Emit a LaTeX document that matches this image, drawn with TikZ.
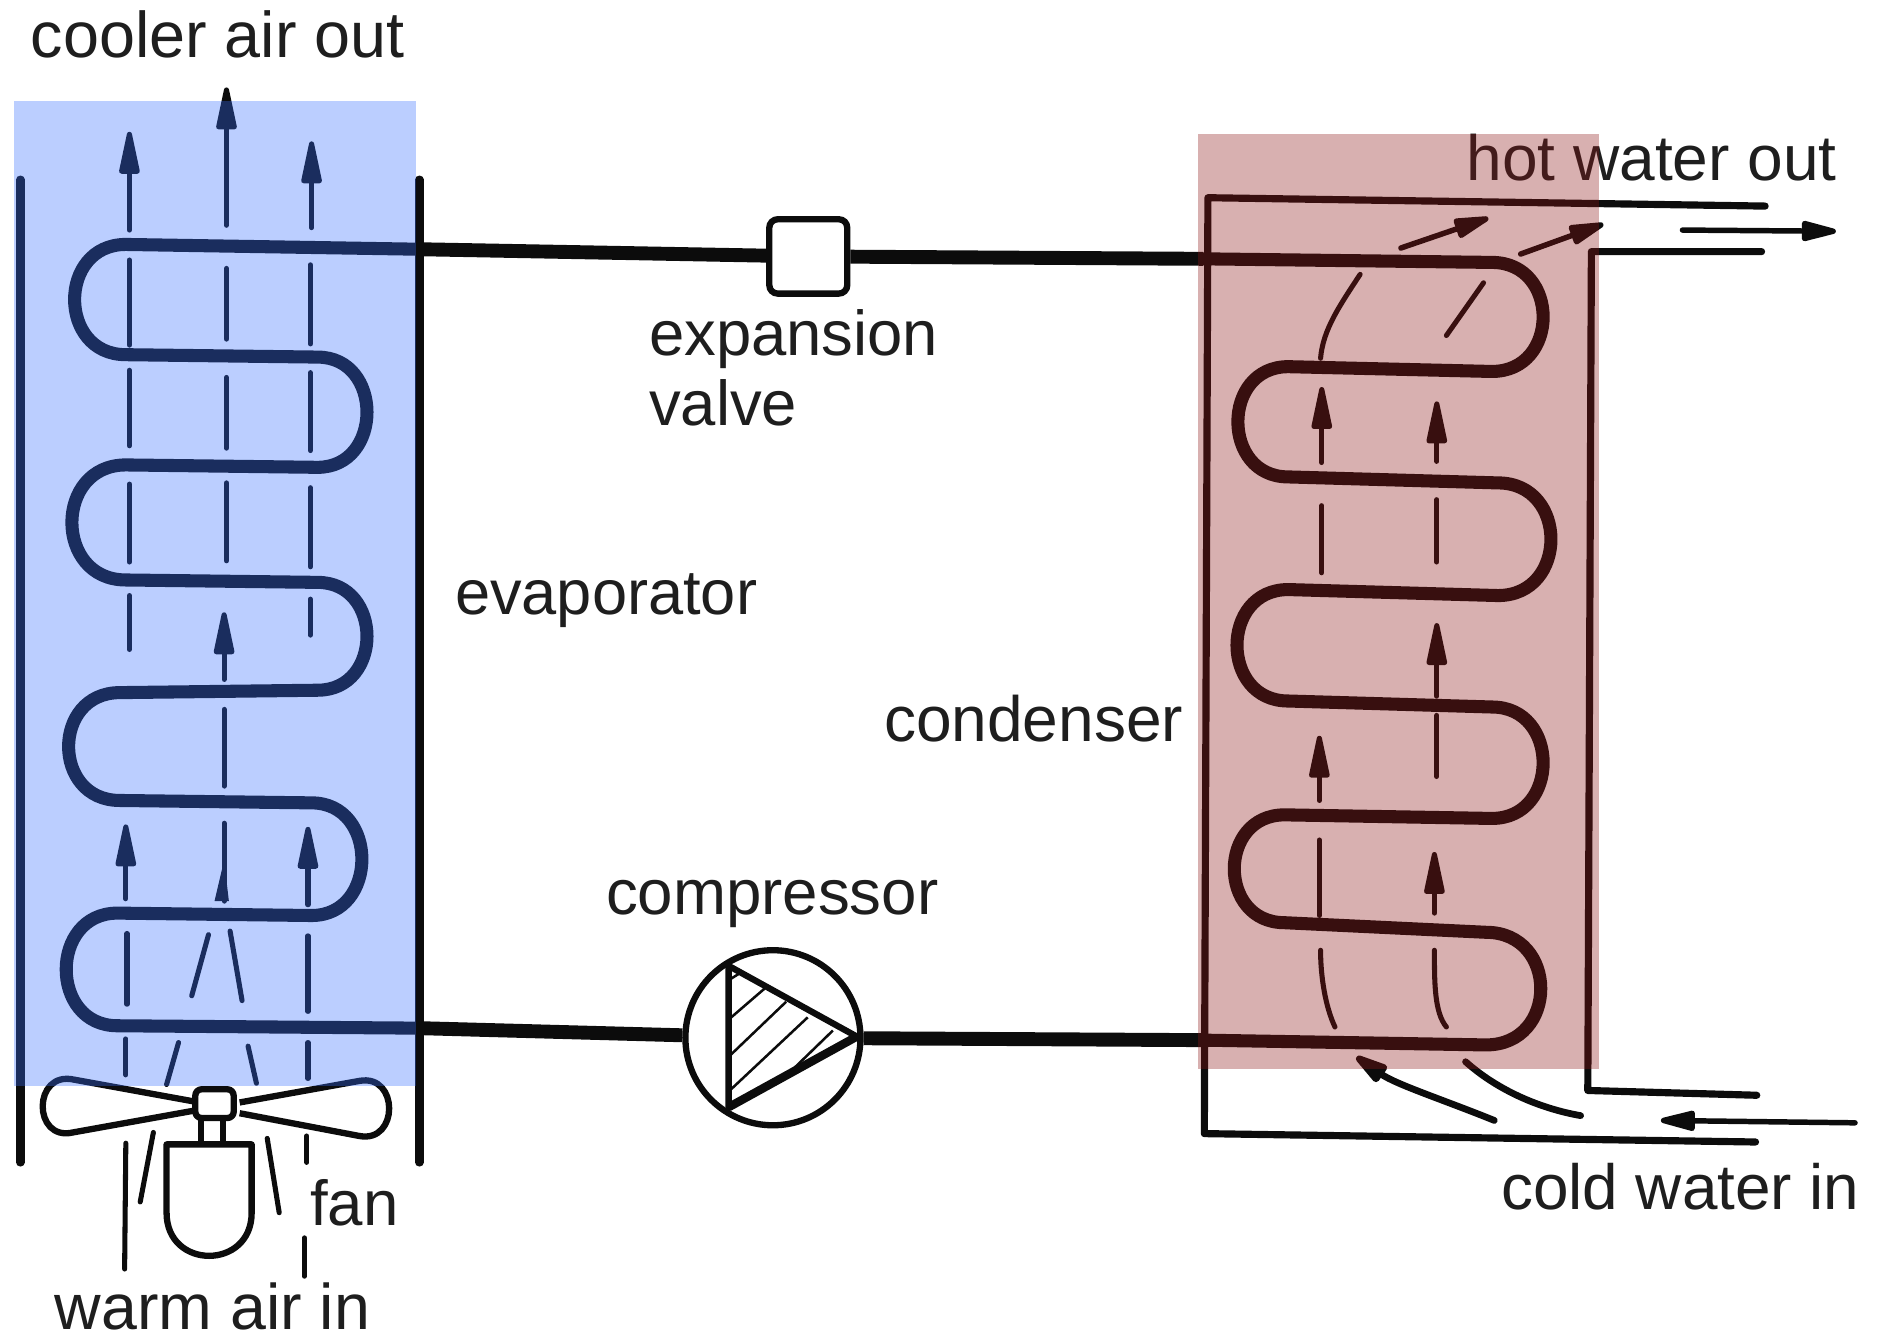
\documentclass[tikz,border=0pt]{standalone}
\usepackage{fontspec}
\setmainfont{Liberation Sans}
\usetikzlibrary{arrows.meta}
\definecolor{ink}{RGB}{12,12,12}
\definecolor{txt}{RGB}{30,30,30}
\definecolor{coolwash}{RGB}{55,111,255}
\definecolor{warmwash}{RGB}{141,23,23}
\tikzset{
  coil/.style={draw=ink,line width=3.1pt,line join=round,line cap=round},
  pipe/.style={draw=ink,line width=3.3pt},
  wall/.style={draw=ink,line width=2pt,line cap=round},
  shell/.style={draw=ink,line width=1.7pt,line join=round,line cap=round},
  air/.style={draw=ink,line width=1.2pt,line cap=round},
  airarrow/.style={air,-{Triangle[length=0.44cm,width=0.17cm,round]}},
  flowarrow/.style={air,line width=1.3pt,-{Triangle[length=0.36cm,width=0.17cm,round]}},
  label/.style={anchor=base west,inner sep=0pt,text=txt,font=\fontsize{#1}{18}\selectfont},
  label/.default=15.1,
  symbol/.style={draw=ink,line width=1.5pt,line join=round},
  hatch/.style={draw=ink,line width=0.6pt},
}
\begin{document}
\begin{tikzpicture}[x=0.01cm,y=-0.01cm]
\useasboundingbox (0,0) rectangle (1568,1116.5);
% labels
\node[label=15.35] (lcool) at (25,48) {cooler air out};
\node[label=15.2] (lhot) at (1223,150.5) {hot water out};
\node[label=15.05] (lexp) at (541,297) {expansion};
\node[label=15.05] (lval) at (541,355) {valve};
\node[label=15] (levap) at (379,513) {evaporator};
\node[label=15.2] (lcond) at (737,619) {condenser};
\node[label=15.1] (lcomp) at (505,763) {compressor};
\node[label=15.1] (lfan) at (258,1023) {fan};
\node[label=15.15] (lcold) at (1252,1009) {cold water in};
\node[label=15.3] (lwarm) at (45,1109.5) {warm air in};
% named points
\coordinate (evapTop) at (350,208);
\coordinate (evapBot) at (350,858);
\coordinate (condTop) at (1004,216);
\coordinate (condBot) at (1004,868);
% evaporator walls
\draw[wall] (17,150) -- (17,970);
\draw[wall] (350,150) -- (350,970);
% evaporator coil
\draw[coil] (evapTop) -- (105,204) .. controls (48,204) and (48,296) .. (105,296)
 -- (265,298) .. controls (320,298) and (320,390) .. (265,390)
 -- (105,388) .. controls (45,388) and (45,484) .. (105,484)
 -- (265,486) .. controls (320,486) and (320,576) .. (265,576)
 -- (100,578) .. controls (43,578) and (43,668) .. (100,668)
 -- (260,670) .. controls (316,670) and (316,764) .. (260,764)
 -- (98,762) .. controls (41,762) and (41,856) .. (98,856)
 -- (evapBot);
% air lines, evaporator
\foreach \x/\a/\b in {108/217/288,108/309/372,108/404/469,108/497/542,106/779/838,105/867/897,
  189/224/283,189/315/374,189/403/468,187/592/656,187/687/752,
  259/221/287,259/311/376,259/407/473,259/500/530,257/781/844,257/870/900}
  {\draw[air] (\x,\a) -- (\x,\b);}
\fill[ink] (187,718) -- (191,752) -- (179,752) -- cycle;
\draw[air] (105,954) -- (104,1059);
\draw[air] (256,948) -- (256,970);
\draw[air] (254,1033) -- (254,1065);
\draw[air] (174,780) -- (160,831);
\draw[air] (192,777) -- (202,835);
\draw[air] (149,870) -- (139,905);
\draw[air] (207,873) -- (214,904);
\draw[air] (128,945) -- (117,1003);
\draw[air] (223,950) -- (233,1012);
\foreach \x/\t/\h in {108/192/110,189/188/73,260/190/118,187/567/511,105/750/688,257/755/690}
  {\draw[airarrow] (\x,\t) -- (\x,\h);}
% fan
\draw[symbol] (161,919) -- (62,901) .. controls (27,893) and (27,953) .. (61,945) -- (161,927);
\draw[symbol] (200,920) -- (300,902) .. controls (333,896) and (333,954) .. (300,948) -- (200,929);
\node[symbol,draw,fill=white,rounded corners=1.5pt,minimum width=0.32cm,minimum height=0.24cm,inner sep=0pt] (hub) at (179,921) {};
\draw[symbol] (168,933) -- (168,955) (186,933) -- (186,955);
\draw[symbol] (139,955) -- (210,955) -- (210,1012) .. controls (210,1060) and (139,1060) .. (139,1012) -- cycle;
% valve and compressor
\node[draw=ink,line width=1.5pt,fill=white,rounded corners=2pt,minimum width=0.65cm,minimum height=0.62cm,inner sep=0pt] (valve) at (674.5,214) {};
\node[draw=ink,line width=1.5pt,circle,minimum size=1.46cm,inner sep=0pt] (comp) at (645,866) {};
\draw[pipe] (evapTop) -- (valve);
\draw[pipe] (valve) -- (condTop);
\draw[pipe] (evapBot) -- (comp);
\draw[pipe] (comp) -- (condBot);
% compressor symbol
\draw[symbol] (608,806) -- (715,865) -- (608,924) -- cycle;
\draw[symbol,line width=2pt] (715,865) -- (608,924);
\draw[hatch] (608,818) -- (616,813);
\draw[hatch] (609,850) -- (638,825);
\draw[hatch] (609,881) -- (656,836);
\draw[hatch] (609,910) -- (674,849);
\draw[hatch] (662,892) -- (695,860);
% condenser water shell
\draw[shell] (1473,172) -- (1008,165) -- (1005,946) -- (1465,953);
\draw[shell] (1470,210) -- (1328,210) -- (1325,910) -- (1466,914);
% condenser coil
\draw[coil] (condTop) -- (1245,219) .. controls (1302,219) and (1302,310) .. (1245,310)
 -- (1075,306) .. controls (1019,306) and (1019,398) .. (1075,398)
 -- (1250,403) .. controls (1309,403) and (1309,497) .. (1250,497)
 -- (1075,492) .. controls (1018,492) and (1018,585) .. (1075,585)
 -- (1245,590) .. controls (1302,590) and (1302,683) .. (1245,683)
 -- (1072,680) .. controls (1016,680) and (1016,770) .. (1072,770)
 -- (1240,778) .. controls (1301,778) and (1301,872) .. (1240,872)
 -- (condBot);
% water lines
\foreach \x/\a/\b in {1103/422/478,1199/417/469,1199/597/648,1101/701/764}
  {\draw[air] (\x,\a) -- (\x,\b);}
\foreach \x/\t/\h in {1103/386/323,1199/385/335,1199/581/520,1101/668/614,1197/762/711}
  {\draw[airarrow] (\x,\t) -- (\x,\h);}
\draw[air] (1135,229) .. controls (1118,255) and (1104,275) .. (1102,299);
\draw[air] (1238,236) -- (1207,280);
\draw[air] (1102,793) .. controls (1102,815) and (1106,840) .. (1114,857);
\draw[air] (1197,793) .. controls (1197,820) and (1197,845) .. (1207,857);
\draw[flowarrow] (1169,207) -- (1242,182);
\draw[flowarrow] (1269,212) -- (1338,187);
\draw[flowarrow] (1404,192) -- (1532,193);
\draw[flowarrow,line width=1.6pt] (1247,935) .. controls (1205,918) and (1165,905) .. (1132,882);
\draw[air,line width=1.6pt] (1319,931) .. controls (1285,925) and (1250,910) .. (1223,886);
\draw[flowarrow] (1548,937) -- (1386,935);
% washes
\fill[coolwash,opacity=0.34] (12,84) rectangle (347,906);
\fill[warmwash,opacity=0.34] (1000,112) rectangle (1334,892);
\end{tikzpicture}
\end{document}
